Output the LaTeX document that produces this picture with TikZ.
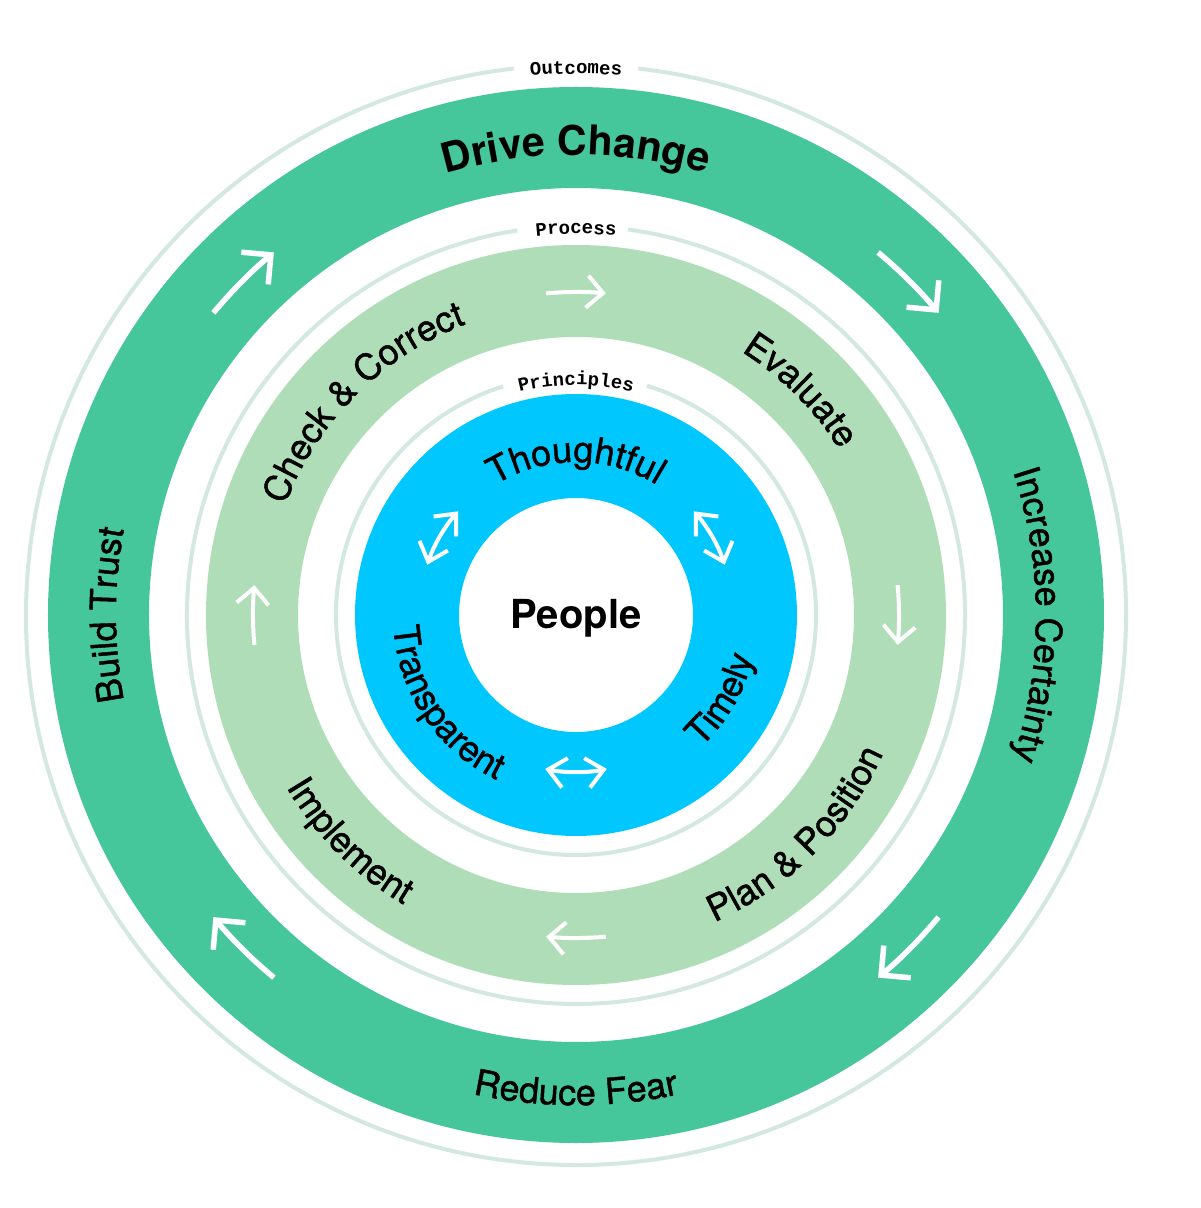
\documentclass[tikz,border=0pt]{standalone}
\usepackage{fontspec}
\setmainfont{TeX Gyre Heros}
\newfontfamily\ringface[FakeBold=1.2]{TeX Gyre Heros}
\newfontfamily\labelmono{Liberation Mono}
\usetikzlibrary{arrows.meta,decorations.text}

\definecolor{outgreen}{HTML}{46C69B}
\definecolor{procgreen}{HTML}{AFDDB7}
\definecolor{prinblue}{HTML}{00C8FF}
\definecolor{ringgray}{HTML}{D2E8E0}

\newcommand{\ringfont}{\ringface\fontsize{36}{40}\selectfont}
\newcommand{\ringbold}{\bfseries\fontsize{41}{45}\selectfont}
\newcommand{\ringmono}{\labelmono\bfseries\fontsize{19}{21}\selectfont}

\tikzset{
    ringline/.style={ringgray, line width=4},
    arctext/.style={decorate, decoration={text along path, text align=center, text={#1}}},
    outarrow/.style={white, line width=5.5, -{Straight Barb[length=21pt,width=42pt]}},
    procarrow/.style={white, line width=4, -{Straight Barb[length=16pt,width=32pt]}},
    prinarrow/.style={white, line width=4, {Straight Barb[length=17pt,width=30pt]}-{Straight Barb[length=17pt,width=30pt]}}
}

\begin{document}
\begin{tikzpicture}[x=1pt, y=1pt]
    % Canvas
    \fill[white] (-576,-593) rectangle (624,615);
    \useasboundingbox (-576,-593) rectangle (624,615);

    % Coloured bands
    \fill[outgreen, even odd rule] (0,0) circle[radius=528] (0,0) circle[radius=427];
    \fill[procgreen, even odd rule] (0,0) circle[radius=370] (0,0) circle[radius=278];
    \fill[prinblue, even odd rule] (0,0) circle[radius=221] (0,0) circle[radius=117];

    % Thin rings, open at the top for their labels
    \draw[ringline] (83.5:550) arc[start angle=83.5, end angle=-263.5, radius=550];
    \draw[ringline] (82.3:389) arc[start angle=82.3, end angle=-261.3, radius=389];
    \draw[ringline] (72.8:240) arc[start angle=72.8, end angle=-252.3, radius=240];

    % Ring labels
    \path[arctext={|\ringmono|Outcomes}] (150:541) arc[start angle=150, end angle=30, radius=541];
    \path[arctext={|\ringmono|Process}] (150:381) arc[start angle=150, end angle=30, radius=381];
    \path[arctext={|\ringmono|Principles}] (150:230) arc[start angle=150, end angle=30, radius=230];

    % Outcomes
    \path[arctext={|\ringbold|Drive Change}] (150:460) arc[start angle=150, end angle=30, radius=460];
    \path[arctext={|\ringfont|Increase Certainty}] (60:460) arc[start angle=60, end angle=-60, radius=460];
    \path[arctext={|\ringfont|Build Trust}] (240:460) arc[start angle=240, end angle=120, radius=460];
    \path[arctext={|\ringfont|Reduce Fear}] (210:490) arc[start angle=210, end angle=330, radius=490];

    % Process
    \path[arctext={|\ringfont|Check {\&} Correct}] (195:311) arc[start angle=195, end angle=75, radius=311];
    \path[arctext={|\ringfont|Evaluate}] (105:311) arc[start angle=105, end angle=-15, radius=311];
    \path[arctext={|\ringfont|Plan {\&} Position}] (-105:337) arc[start angle=-105, end angle=15, radius=337];
    \path[arctext={|\ringfont|Implement}] (-195:337) arc[start angle=-195, end angle=-75, radius=337];

    % Principles
    \path[arctext={|\ringfont|Thoughtful}] (180:153) arc[start angle=180, end angle=0, radius=153];
    \path[arctext={|\ringfont|Transparent}] (124:183) arc[start angle=124, end angle=304, radius=183];
    \path[arctext={|\ringfont|Timely}] (240:182) arc[start angle=240, end angle=420, radius=182];

    % Centre
    \node[font=\bfseries\fontsize{40}{44}\selectfont, anchor=base] (people) at (0,-13) {People};

    % Arrows, clockwise
    \foreach \a in {135,45,-45,-135} {
        \draw[outarrow] ({\a+5.2}:472) arc[start angle={\a+5.2}, end angle={\a-5.2}, radius=472];
    }
    \foreach \a in {90,0,-90,180} {
        \draw[procarrow] ({\a+5.3}:323) arc[start angle={\a+5.3}, end angle={\a-5.3}, radius=323];
    }
    \foreach \a in {150,30,270} {
        \draw[prinarrow] ({\a+11.3}:157) arc[start angle={\a+11.3}, end angle={\a-11.3}, radius=157];
    }
\end{tikzpicture}
\end{document}
